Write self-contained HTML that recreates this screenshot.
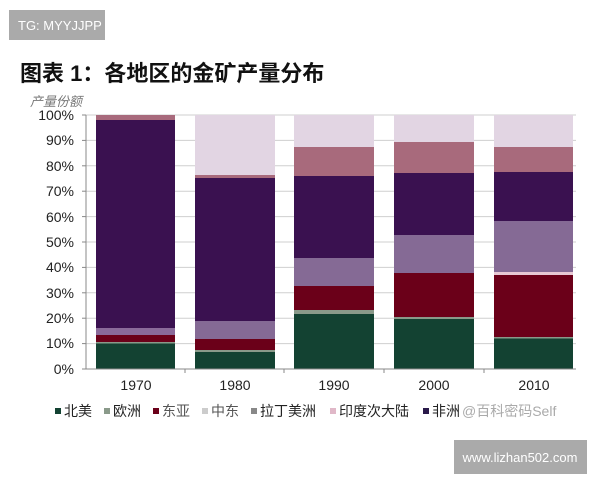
<!DOCTYPE html>
<html><head><meta charset="utf-8"><style>
body{margin:0;width:600px;height:480px;background:#fff;overflow:hidden;font-family:"Liberation Sans","Noto Sans CJK SC",sans-serif}
</style></head><body>
<svg width="600" height="480" xmlns="http://www.w3.org/2000/svg" font-family="Liberation Sans, Noto Sans CJK SC, sans-serif">
<rect x="9" y="10" width="96" height="30" fill="#aaaaaa"/>
<text x="18" y="30" font-size="13" fill="#fff">TG: MYYJJPP</text>
<text x="20" y="81" font-size="22" font-weight="bold" fill="#111">图表 1：各地区的金矿产量分布</text>
<text x="30" y="106" font-size="13" font-style="italic" fill="#777">产量份额</text>
<g stroke="#cfcfcf" stroke-width="1">
<line x1="86" y1="115" x2="576" y2="115"/><line x1="86" y1="140.4" x2="576" y2="140.4"/><line x1="86" y1="165.8" x2="576" y2="165.8"/><line x1="86" y1="191.2" x2="576" y2="191.2"/><line x1="86" y1="216.6" x2="576" y2="216.6"/><line x1="86" y1="242" x2="576" y2="242"/><line x1="86" y1="267.4" x2="576" y2="267.4"/><line x1="86" y1="292.8" x2="576" y2="292.8"/><line x1="86" y1="318.2" x2="576" y2="318.2"/><line x1="86" y1="343.6" x2="576" y2="343.6"/>
</g>
<g font-size="14" fill="#222" text-anchor="end">
<text x="74" y="120">100%</text><text x="74" y="145">90%</text><text x="74" y="171">80%</text><text x="74" y="196">70%</text><text x="74" y="222">60%</text><text x="74" y="247">50%</text><text x="74" y="272">40%</text><text x="74" y="298">30%</text><text x="74" y="323">20%</text><text x="74" y="348">10%</text><text x="74" y="374">0%</text>
</g>
<!-- 1970 -->
<rect x="96" y="115" width="79" height="5" fill="#a86a7c"/>
<rect x="96" y="120" width="79" height="208" fill="#3a1150"/>
<rect x="96" y="328" width="79" height="7" fill="#8a6a9a"/>
<rect x="96" y="335" width="79" height="7" fill="#6b0019"/>
<rect x="96" y="342" width="79" height="1.5" fill="#8a9a8a"/>
<rect x="96" y="343.5" width="79" height="25.5" fill="#134232"/>
<!-- 1980 -->
<rect x="195" y="115" width="80" height="60" fill="#e2d5e3"/>
<rect x="195" y="175" width="80" height="3" fill="#a86a7c"/>
<rect x="195" y="178" width="80" height="143" fill="#3a1150"/>
<rect x="195" y="321" width="80" height="18" fill="#856a95"/>
<rect x="195" y="339" width="80" height="11" fill="#6b0019"/>
<rect x="195" y="350" width="80" height="2" fill="#8a9a8a"/>
<rect x="195" y="352" width="80" height="17" fill="#134232"/>
<!-- 1990 -->
<rect x="294" y="115" width="80" height="32" fill="#e2d5e3"/>
<rect x="294" y="147" width="80" height="29" fill="#a86a7c"/>
<rect x="294" y="176" width="80" height="82" fill="#3a1150"/>
<rect x="294" y="258" width="80" height="28" fill="#856a95"/>
<rect x="294" y="286" width="80" height="24" fill="#6b0019"/>
<rect x="294" y="310" width="80" height="4" fill="#8a9a8a"/>
<rect x="294" y="314" width="80" height="55" fill="#134232"/>
<!-- 2000 -->
<rect x="394" y="115" width="80" height="27" fill="#e2d5e3"/>
<rect x="394" y="142" width="80" height="31" fill="#a86a7c"/>
<rect x="394" y="173" width="80" height="62" fill="#3a1150"/>
<rect x="394" y="235" width="80" height="38" fill="#856a95"/>
<rect x="394" y="273" width="80" height="44" fill="#6b0019"/>
<rect x="394" y="317" width="80" height="2" fill="#8a9a8a"/>
<rect x="394" y="319" width="80" height="50" fill="#134232"/>
<!-- 2010 -->
<rect x="494" y="115" width="79" height="32" fill="#e2d5e3"/>
<rect x="494" y="147" width="79" height="25" fill="#a86a7c"/>
<rect x="494" y="172" width="79" height="49" fill="#3a1150"/>
<rect x="494" y="221" width="79" height="51" fill="#856a95"/>
<rect x="494" y="272" width="79" height="3" fill="#e8c8d4"/>
<rect x="494" y="275" width="79" height="62" fill="#6b0019"/>
<rect x="494" y="337" width="79" height="1.5" fill="#8a9a8a"/>
<rect x="494" y="338.5" width="79" height="30.5" fill="#134232"/>
<g stroke="#888" stroke-width="1">
<line x1="86" y1="115" x2="86" y2="369"/><line x1="82" y1="369" x2="576" y2="369"/>
<line x1="82" y1="115" x2="86" y2="115"/><line x1="82" y1="140.4" x2="86" y2="140.4"/><line x1="82" y1="165.8" x2="86" y2="165.8"/><line x1="82" y1="191.2" x2="86" y2="191.2"/><line x1="82" y1="216.6" x2="86" y2="216.6"/><line x1="82" y1="242" x2="86" y2="242"/><line x1="82" y1="267.4" x2="86" y2="267.4"/><line x1="82" y1="292.8" x2="86" y2="292.8"/><line x1="82" y1="318.2" x2="86" y2="318.2"/><line x1="82" y1="343.6" x2="86" y2="343.6"/>
<line x1="185" y1="369" x2="185" y2="373"/><line x1="284" y1="369" x2="284" y2="373"/><line x1="384" y1="369" x2="384" y2="373"/><line x1="484" y1="369" x2="484" y2="373"/>
</g>
<g font-size="14" fill="#222" text-anchor="middle">
<text x="136" y="390">1970</text><text x="235" y="390">1980</text><text x="334" y="390">1990</text><text x="434" y="390">2000</text><text x="534" y="390">2010</text>
</g>
<g font-size="14" fill="#222">
<rect x="55" y="408" width="6" height="6" fill="#134232"/><text x="64" y="416">北美</text>
<rect x="104" y="408" width="6" height="6" fill="#8a9a8a"/><text x="113" y="416">欧洲</text>
<rect x="153" y="408" width="6" height="6" fill="#6b0019"/><text x="162" y="416" fill="#555">东亚</text>
<rect x="202" y="408" width="6" height="6" fill="#ccc"/><text x="211" y="416" fill="#555">中东</text>
<rect x="251" y="408" width="6" height="6" fill="#888"/><text x="260" y="416">拉丁美洲</text>
<rect x="330" y="408" width="6" height="6" fill="#e0b8c8"/><text x="339" y="416">印度次大陆</text>
<rect x="423" y="408" width="6" height="6" fill="#2a1a4a"/><text x="432" y="416">非洲</text>
<text x="462" y="416" fill="#aaa">@百科密码Self</text>
</g>
<rect x="454" y="440" width="133" height="34" fill="#aaaaaa"/>
<text x="520" y="462" font-size="13" fill="#fff" text-anchor="middle">www.lizhan502.com</text>
</svg>
</body></html>
